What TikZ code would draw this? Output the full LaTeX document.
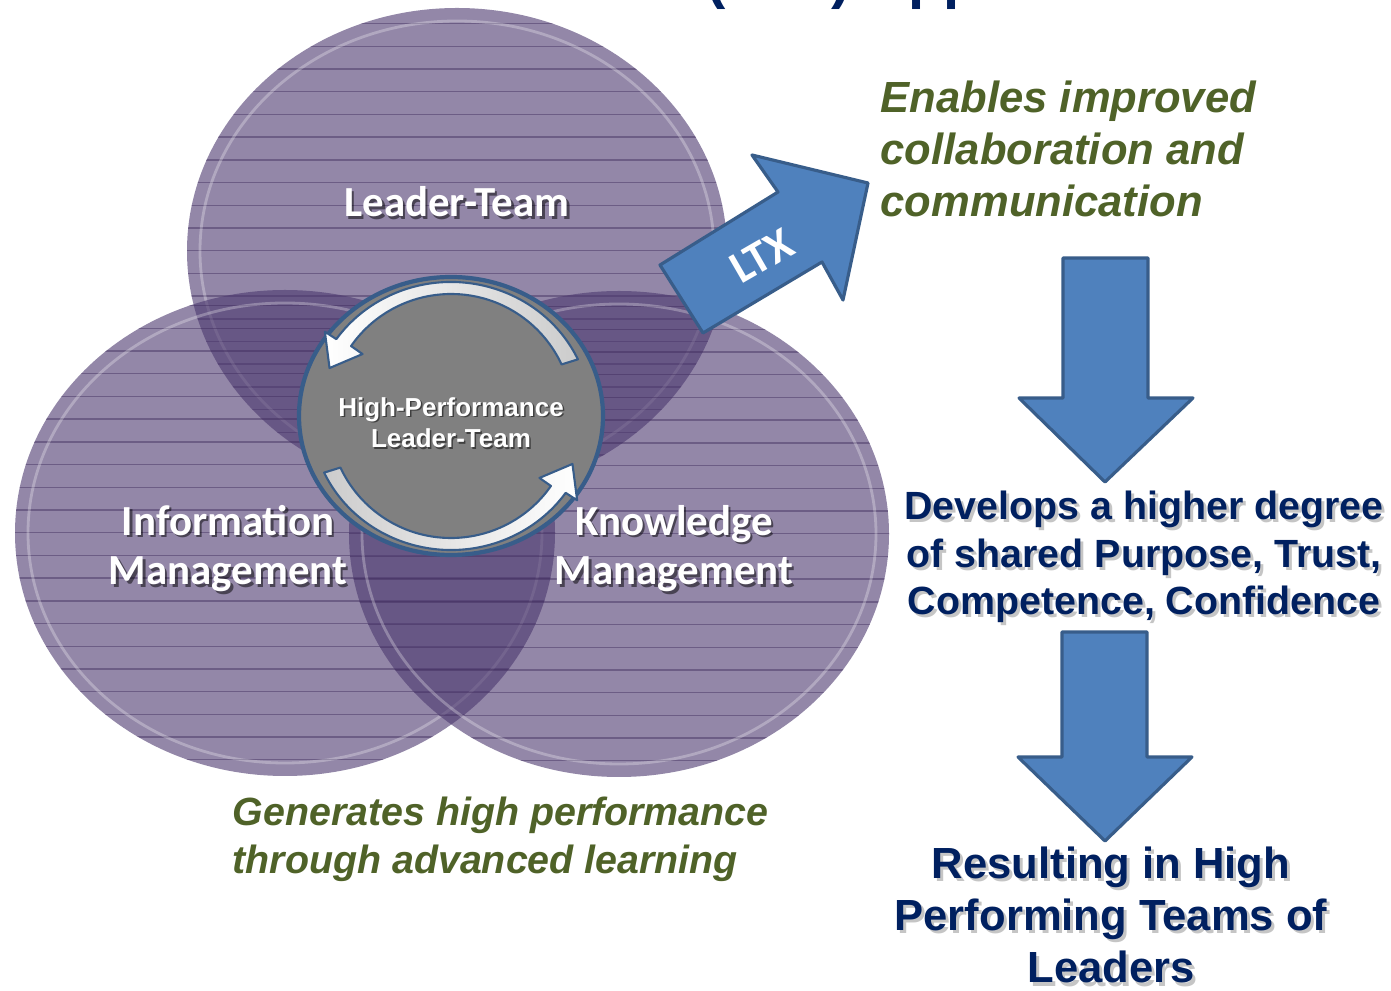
\documentclass[tikz,border=0pt]{standalone}
\usepackage{fontspec}
\setmainfont{Liberation Sans}
\newfontfamily\calibfont{Carlito}
\usetikzlibrary{shapes.geometric}
\definecolor{vennfill}{RGB}{75,55,110}
\definecolor{vennline}{RGB}{62,42,92}
\definecolor{ltxblue}{RGB}{79,129,189}
\definecolor{ltxedge}{RGB}{56,93,138}
\definecolor{navytext}{RGB}{0,32,96}
\definecolor{olivetext}{RGB}{79,98,40}
\definecolor{hubgray}{RGB}{128,128,128}

\begin{document}
\begin{tikzpicture}
  \tikzstyle{venn} = [fill=vennfill,fill opacity=0.6]
  \tikzstyle{bigarrow} = [fill=ltxblue,draw=ltxedge,line width=0.9pt,line join=round]
  \tikzstyle{band} = [draw=ltxedge,line width=0.6pt,line join=round]
  \tikzstyle{venntext} = [font=\calibfont\bfseries\fontsize{12.2}{14.2}\selectfont,align=center,anchor=base,inner sep=0pt]
  \tikzstyle{hubtext} = [font=\bfseries\fontsize{7.4}{9.1}\selectfont,align=center,anchor=base,inner sep=0pt]
  \tikzstyle{navy} = [font=\bfseries\fontsize{11.2}{13.6}\selectfont,align=center,anchor=base,inner sep=0pt]
  \tikzstyle{olive} = [font=\bfseries\itshape\fontsize{12.4}{14.9}\selectfont,text=olivetext,align=left,anchor=base west,inner sep=0pt]
  \useasboundingbox (0,0) rectangle (13.91,-9.91);
  \fill[white] (0,0) rectangle (13.91,-9.91);

  \node[font=\bfseries\fontsize{16.5}{19}\selectfont,text=navytext,anchor=base west,inner sep=0pt] (title) at (7.06,0.02) {(LTX) Approach};

  \foreach \cx/\cy in {4.57/-2.51, 2.85/-5.33, 6.19/-5.34}{
    \fill[venn] (\cx,\cy) ellipse [x radius=2.70, y radius=2.43];
    \begin{scope}
      \clip (\cx,\cy) ellipse [x radius=2.70, y radius=2.43];
      \foreach \k in {0,...,22}
        \draw[vennline,opacity=0.45,line width=0.4pt] (\cx-2.8,\cy+2.5-\k*0.227) -- ++(5.6,0);
    \end{scope}
    \draw[white,opacity=0.28,line width=0.8pt] (\cx,\cy) ellipse [x radius=2.57, y radius=2.30];
  }

  \node[text=black,opacity=0.5,venntext] (lt-s) at (4.595,-2.195) {Leader-Team};
  \node[text=white,venntext] (lt) at (4.57,-2.17) {Leader-Team};
  \node[text=black,opacity=0.5,venntext] (im-s) at (2.305,-5.875) {Information\\Management};
  \node[text=white,venntext] (im) at (2.28,-5.85) {Information\\Management};
  \node[text=black,opacity=0.5,venntext] (km-s) at (6.765,-5.875) {Knowledge\\Management};
  \node[text=white,venntext] (km) at (6.74,-5.85) {Knowledge\\Management};

  \node[ellipse,fill=hubgray,draw=ltxedge,line width=1.2pt,minimum width=3.04cm,minimum height=2.78cm,inner sep=0pt] (hub) at (4.51,-4.16) {};
  \begin{scope}[shift={(hub.center)}]
    \draw[band,left color=white,right color=gray!40]
      (25:1.40 and 1.34) arc[start angle=25,end angle=145,x radius=1.40,y radius=1.34]
      -- (145:1.54 and 1.47) -- (158:1.31 and 1.28) -- (145:1.08 and 1.08)
      -- (145:1.22 and 1.22) arc[start angle=145,end angle=25,x radius=1.22,y radius=1.22] -- cycle;
    \draw[band,left color=gray!40,right color=white]
      (205:1.40 and 1.34) arc[start angle=205,end angle=325,x radius=1.40,y radius=1.34]
      -- (325:1.54 and 1.47) -- (338:1.31 and 1.28) -- (325:1.08 and 1.08)
      -- (325:1.22 and 1.22) arc[start angle=325,end angle=205,x radius=1.22,y radius=1.22] -- cycle;
  \end{scope}
  \node[text=black,opacity=0.5,hubtext] (hp-s) at (4.525,-4.495) {High-Performance\\Leader-Team};
  \node[text=white,hubtext] (hp) at (4.51,-4.48) {High-Performance\\Leader-Team};

  \draw[bigarrow] (6.60,-2.65) -- (7.78,-1.92) -- (7.52,-1.55) -- (8.68,-1.83)
    -- (8.43,-3.00) -- (8.22,-2.62) -- (7.03,-3.33) -- cycle;
  \node[font=\calibfont\bfseries\fontsize{13}{15}\selectfont,text=white,rotate=30,inner sep=0pt] (ltx) at (7.62,-2.56) {LTX};

  \draw[bigarrow] (10.63,-2.58) -- (11.48,-2.58) -- (11.48,-3.98) -- (11.93,-3.98)
    -- (11.05,-4.82) -- (10.19,-3.98) -- (10.63,-3.98) -- cycle;
  \draw[bigarrow] (10.62,-6.32) -- (11.47,-6.32) -- (11.47,-7.57) -- (11.92,-7.57)
    -- (11.05,-8.41) -- (10.18,-7.57) -- (10.62,-7.57) -- cycle;

  \node[olive] (enables) at (8.80,-2.17) {Enables improved\\collaboration and\\communication};
  \node[olive,font=\bfseries\itshape\fontsize{11.2}{13.7}\selectfont] (generates) at (2.32,-8.74) {Generates high performance\\through advanced learning};

  \node[navy,text=gray,opacity=0.45] (develops-s) at (11.47,-6.18) {Develops a higher degree\\of shared Purpose, Trust,\\Competence, Confidence};
  \node[navy,text=navytext] (develops) at (11.44,-6.15) {Develops a higher degree\\of shared Purpose, Trust,\\Competence, Confidence};
  \node[navy,font=\bfseries\fontsize{12.4}{14.9}\selectfont,text=gray,opacity=0.45] (resulting-s) at (11.14,-9.86) {Resulting in High\\Performing Teams of\\Leaders};
  \node[navy,font=\bfseries\fontsize{12.4}{14.9}\selectfont,text=navytext] (resulting) at (11.11,-9.83) {Resulting in High\\Performing Teams of\\Leaders};
\end{tikzpicture}
\end{document}
